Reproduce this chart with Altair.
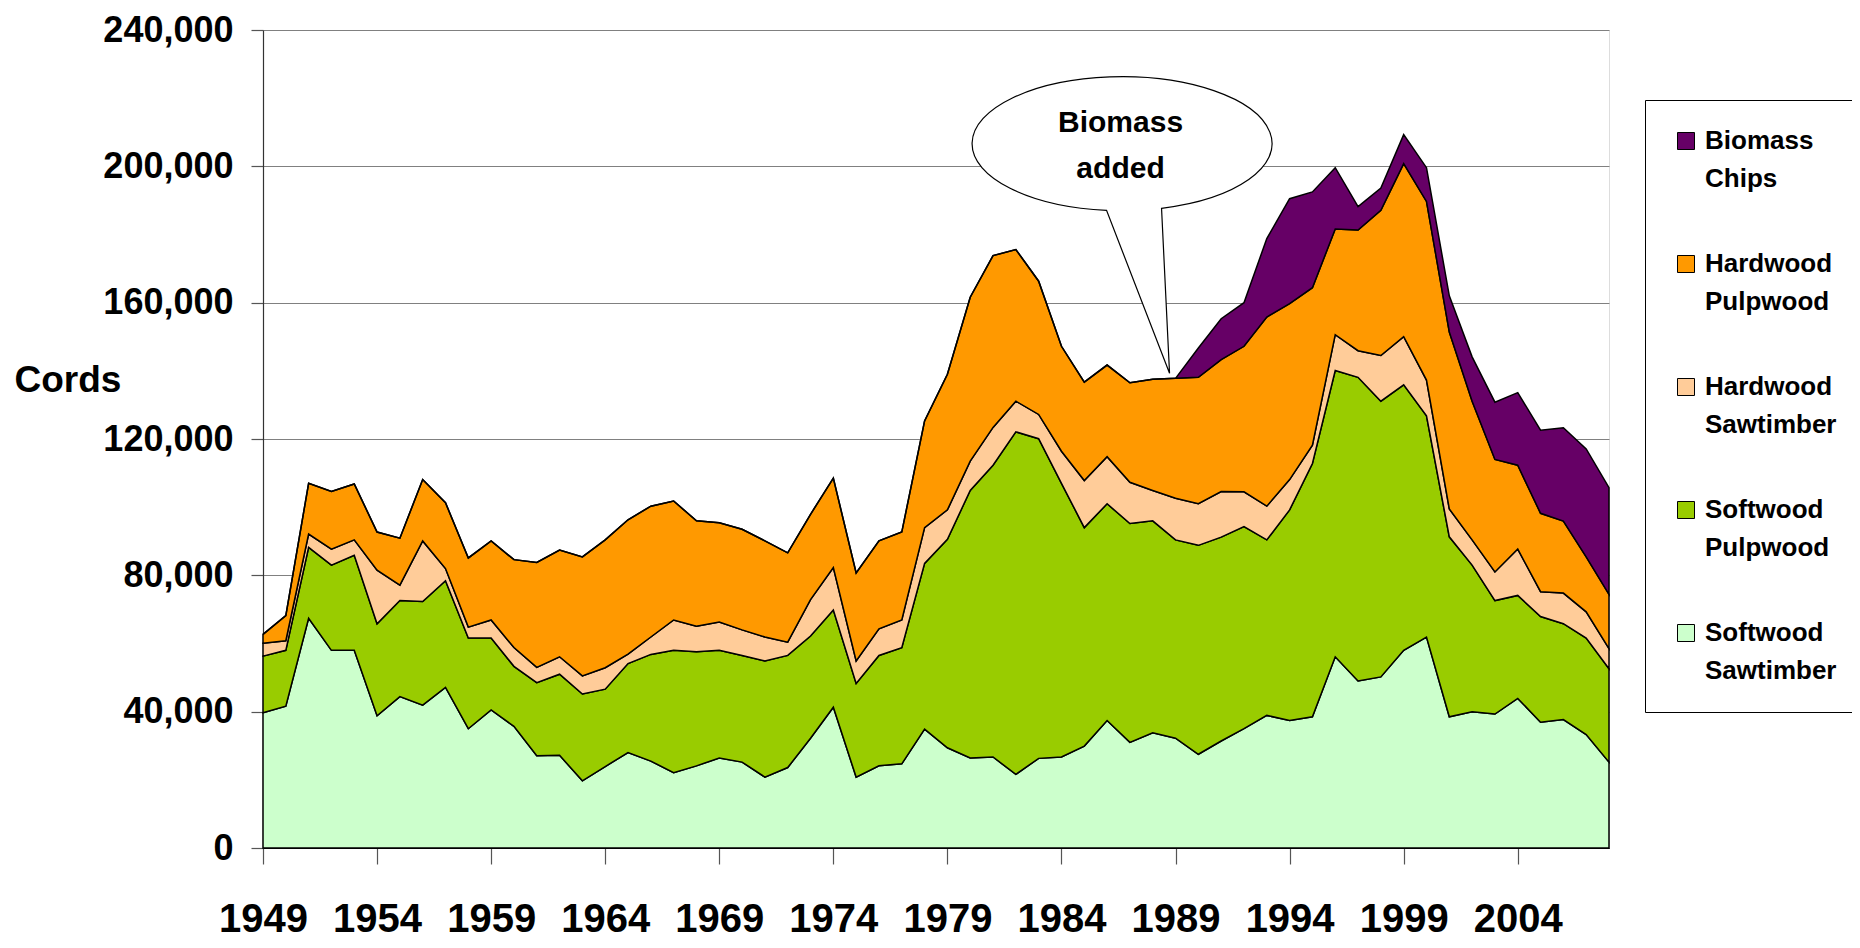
import altair as alt
import pandas as pd

years = list(range(1949, 2009))

softwood_sawtimber = [39700, 41600, 67400, 58000, 58000, 38800, 44400, 41900, 47100, 35000,
                      40500, 35700, 27100, 27200, 19700, 23900, 28000, 25500, 22100, 24100,
                      26400, 25200, 20800, 23600, 32200, 41300, 20800, 24100, 24700, 34900,
                      29400, 26400, 26700, 21600, 26300, 26700, 29900, 37400, 31000, 33800,
                      32200, 27500, 31400, 35000, 38900, 37400, 38500, 56100, 49000, 50200,
                      58000, 61900, 38500, 40000, 39300, 43900, 36900, 37700, 33300, 25200]
softwood_pulpwood = [16600, 16400, 20800, 25000, 27900, 27000, 28200, 30400, 31300, 26600,
                     21100, 17600, 21400, 23800, 25500, 22700, 26100, 31300, 35900, 33500,
                     31600, 31300, 34100, 32900, 30000, 28500, 27500, 32400, 34100, 48600,
                     61200, 78500, 85600, 100500, 93800, 80300, 64100, 63600, 64200, 62200,
                     58200, 61300, 59800, 59300, 51500, 61800, 74300, 84000, 89100, 80900,
                     77900, 64900, 52800, 43000, 33300, 30200, 31000, 28100, 28300, 27400]
hardwood_sawtimber = [3800, 2800, 3900, 4700, 4500, 15700, 4500, 17800, 3600, 3200,
                      5300, 5500, 4500, 5100, 5300, 6300, 2800, 5100, 8900, 7500,
                      8300, 7500, 7000, 3900, 10700, 12500, 6600, 7800, 8100, 10500,
                      8600, 8600, 11100, 9000, 7100, 9400, 13800, 13800, 12100, 8900,
                      12200, 12200, 13400, 10200, 9900, 8900, 5400, 10500, 7800, 13400,
                      14100, 10500, 8200, 7400, 8400, 13600, 7300, 9000, 7700, 5900]
hardwood_pulpwood = [2600, 7400, 14900, 16900, 16400, 11200, 13800, 18000, 19300, 20300,
                     23200, 25800, 30800, 31300, 34900, 37500, 39400, 38400, 34900, 30900,
                     29100, 29500, 28200, 26200, 25000, 26200, 25800, 25800, 25800, 31300,
                     39800, 48100, 50400, 44500, 39100, 30800, 28900, 26900, 29200, 32600,
                     35200, 37100, 38700, 42700, 55500, 51600, 46200, 31000, 35400, 42600,
                     50800, 52400, 51900, 40700, 33000, 24600, 23000, 21100, 16100, 15900]
biomass_chips = [None] * 40 + [0, 8600, 12000, 12800, 23000, 30800, 28100, 18000, 6900, 6500,
                               8500, 9900, 10600, 13000, 16800, 21300, 24400, 27400, 31700, 31300]

series_names = ["Softwood Sawtimber", "Softwood Pulpwood", "Hardwood Sawtimber",
                "Hardwood Pulpwood", "Biomass Chips"]
legend_order = ["Biomass Chips", "Hardwood Pulpwood", "Hardwood Sawtimber",
                "Softwood Pulpwood", "Softwood Sawtimber"]
legend_colors = ["#660066", "#FF9900", "#FFCC99", "#99CC00", "#CCFFCC"]

x_ticks = list(range(1949, 2005, 5))
y_ticks = [0, 40000, 80000, 120000, 160000, 200000, 240000]

callout_year = 1989
callout_lines = ["Biomass", "added"]

rows = []
for rank, (name, vals) in enumerate(zip(series_names,
                                        [softwood_sawtimber, softwood_pulpwood,
                                         hardwood_sawtimber, hardwood_pulpwood,
                                         biomass_chips])):
    for yr, v in zip(years, vals):
        if v is not None:
            rows.append({"year": yr, "value": v, "series": name, "rank": rank})
df = pd.DataFrame(rows)

i89 = years.index(callout_year)
callout_df = pd.DataFrame([{
    "year": callout_year,
    "value": softwood_sawtimber[i89] + softwood_pulpwood[i89]
    + hardwood_sawtimber[i89] + hardwood_pulpwood[i89],
}])

FONT = "'Liberation Sans', Arial, sans-serif"

area = alt.Chart(df).mark_area(stroke="black", strokeWidth=1.5, opacity=1).encode(
    x=alt.X("year:Q",
            scale=alt.Scale(domain=[1949, 2008], nice=False, zero=False),
            axis=alt.Axis(values=x_ticks, format="d", title=None, grid=False,
                          domainColor="black", domainWidth=1.2,
                          tickColor="#555555", tickSize=16, tickWidth=1.2,
                          labelFont=FONT, labelFontSize=40, labelFontWeight="bold",
                          labelColor="black", labelPadding=35, labelFlush=False,
                          labelOverlap=False)),
    y=alt.Y("value:Q", stack="zero",
            scale=alt.Scale(domain=[0, 240000], nice=False),
            axis=alt.Axis(values=y_ticks, format=",d", title="Cords",
                          titleAngle=0, titleAlign="left", titleBaseline="middle",
                          titleX=-249, titleY=350, titleFont=FONT,
                          titleFontSize=37, titleFontWeight="bold", titleColor="black",
                          grid=True, gridColor="#808080", gridWidth=1,
                          domainColor="#333333", domainWidth=1.2,
                          tickColor="#555555", tickSize=12, tickWidth=1.2,
                          labelFont=FONT, labelFontSize=36, labelFontWeight="bold",
                          labelColor="black", labelPadding=18)),
    color=alt.Color("series:N",
                    scale=alt.Scale(domain=legend_order, range=legend_colors),
                    legend=alt.Legend(orient="none", legendX=1382, legendY=70,
                                      title=None, symbolType="square", symbolSize=289,
                                      symbolStrokeColor="black", symbolStrokeWidth=1,
                                      labelFont=FONT, labelFontSize=26,
                                      labelFontWeight="bold", labelColor="black",
                                      labelOffset=6, labelLimit=400,
                                      labelExpr="split(datum.label, ' ')",
                                      rowPadding=59, padding=28,
                                      strokeColor="black")),
    order=alt.Order("rank:Q", sort="ascending"),
)

callout = alt.Chart(callout_df).mark_point(
    shape="M -6 -5 L -69 -168 A 150 67 0 1 1 -14 -170 Z",
    size=4, filled=True, fill="white", stroke="black", strokeWidth=1.2,
    opacity=1, fillOpacity=1,
).encode(x="year:Q", y="value:Q")

callout_text = alt.Chart(callout_df).mark_text(
    text=callout_lines, font=FONT, fontSize=30, fontWeight="bold",
    align="center", baseline="middle", lineHeight=46, dx=-55, dy=-255,
    color="black",
).encode(x="year:Q", y="value:Q")

chart = alt.layer(area, callout, callout_text).properties(
    width=1346, height=818,
    autosize=alt.AutoSizeParams(type="none"),
    padding={"left": 255, "top": 22, "right": 243, "bottom": 92},
).configure_view(stroke=None).configure_legend(strokeWidth=1).configure(
    style={"guide-label": {"lineHeight": 38}}
)

chart.save("out.html", embed_options={"renderer": "svg", "actions": False})
